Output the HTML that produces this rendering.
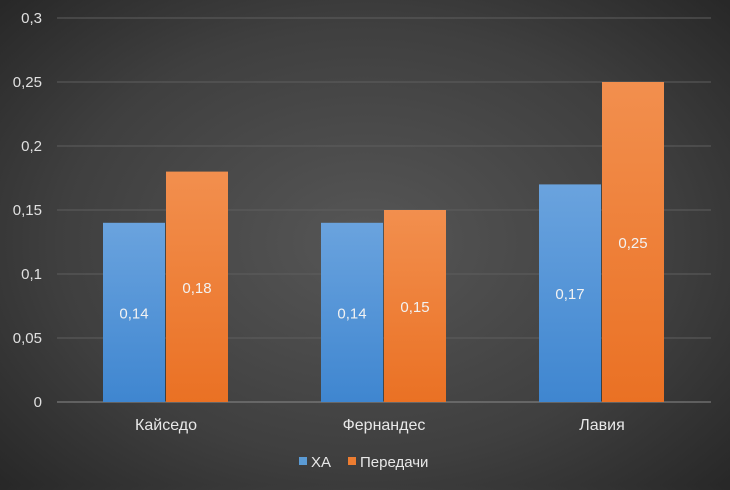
<!DOCTYPE html>
<html><head><meta charset="utf-8"><style>
html,body{margin:0;padding:0;}
body{width:730px;height:485px;overflow:hidden;background:radial-gradient(ellipse 70% 75% at 50% 50%,#565656 0%,#3f3f3f 60%,#262626 100%);font-family:"Liberation Sans",sans-serif;}
svg text{font-family:"Liberation Sans",sans-serif;}
</style></head><body>
<svg id="chart" width="730" height="485" xmlns="http://www.w3.org/2000/svg">
<defs>
<linearGradient id="gb" x1="0" y1="0" x2="0" y2="1"><stop offset="0" stop-color="#6aa3de"/><stop offset="1" stop-color="#3f86d0"/></linearGradient>
<linearGradient id="go" x1="0" y1="0" x2="0" y2="1"><stop offset="0" stop-color="#f28f4e"/><stop offset="1" stop-color="#ea7124"/></linearGradient>
</defs>
<g id="grid"></g><g id="bars"></g><g id="labels"></g>
<g>
<rect x="299" y="457" width="8" height="8" fill="#5b9bd5"/>
<text x="311" y="467" fill="#e8e8e8" font-size="15">ХА</text>
<rect x="348" y="457" width="8" height="8" fill="#ed7d31"/>
<text x="360" y="467" fill="#e8e8e8" font-size="15">Передачи</text>
</g>
</svg>
<script>
const categories=["Кайседо","Фернандес","Лавия"];
const xaValues=[0.14,0.14,0.17];
const passValues=[0.18,0.15,0.25];
const yTicks=[0,0.05,0.1,0.15,0.2,0.25,0.3];
const yTickLabels=["0","0,05","0,1","0,15","0,2","0,25","0,3"];
const ns="http://www.w3.org/2000/svg";
const x0=57,x1=711,y0=402,y1=18,yMax=0.3;
const Y=v=>y0-(v/yMax)*(y0-y1);
const catW=(x1-x0)/categories.length;
const barW=62;
function mk(t,a,p){const e=document.createElementNS(ns,t);for(const k in a)e.setAttribute(k,a[k]);p.appendChild(e);return e;}
const grid=document.getElementById('grid'),bars=document.getElementById('bars'),labels=document.getElementById('labels');
yTicks.forEach((v,i)=>{
 const l=mk('line',{x1:x0,x2:x1,y1:Y(v),y2:Y(v),stroke:i===0?'#8a8a8a':'#5e5e5e','stroke-width':1},grid);
 
 
 const t=mk('text',{x:42,y:Y(v)+5,'text-anchor':'end',fill:'#e0e0e0','font-size':15},grid);
 t.textContent=yTickLabels[i];
 
 
});
const fmt=v=>String(v).replace('.',',');
categories.forEach((c,i)=>{
 const cx=x0+catW*(i+0.5);
 [[xaValues[i],'url(#gb)',cx-barW-1,'bar-xa'],[passValues[i],'url(#go)',cx,'bar-passes']].forEach(([v,f,x,n])=>{
  const r=mk('rect',{x:x,y:Y(v),width:barW,height:y0-Y(v),fill:f},bars);
  
  
  const t=mk('text',{x:x+barW/2,y:(Y(v)+y0)/2+6,'text-anchor':'middle',fill:'#f2f2f2','font-size':15},labels);
  t.textContent=fmt(v);
  
  
 });
 const t=mk('text',{x:cx,y:430,'text-anchor':'middle',fill:'#e8e8e8','font-size':16},labels);
 t.textContent=c;
 
 
});
</script>
</body></html>
